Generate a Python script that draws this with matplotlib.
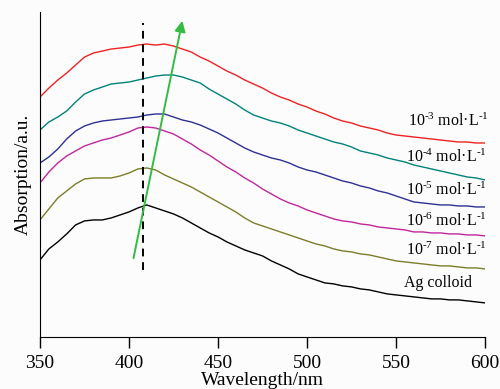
# UV-vis absorption spectra of Ag colloid at different concentrations
import matplotlib
matplotlib.use('Agg')
import matplotlib.pyplot as plt
import numpy as np

plt.rcParams['font.family'] = ['Liberation Serif', 'DejaVu Serif']
plt.rcParams['mathtext.fontset'] = 'custom'
plt.rcParams['mathtext.rm'] = 'Liberation Serif'
plt.rcParams['mathtext.default'] = 'regular'

wavelength = np.arange(350, 601, 5)

# absorption in arbitrary units
red = [240, 249, 257, 264, 272, 280, 284, 286, 288, 289, 290, 292, 293, 292, 293, 291, 288,
       285, 280, 276, 271, 266, 262, 257, 253, 249, 244, 240, 237, 233, 230, 226, 223, 219,
       216, 214, 211, 209, 207, 204, 202, 201, 200, 199, 198, 197, 196, 195, 195, 194, 194]
teal = [207, 215, 220, 226, 235, 243, 247, 250, 253, 254, 255, 257, 259, 261, 262, 262, 260,
        257, 254, 248, 243, 238, 233, 227, 222, 219, 216, 214, 211, 207, 204, 201, 198, 195,
        193, 190, 186, 184, 182, 179, 177, 175, 172, 170, 168, 166, 164, 162, 160, 159, 157]
blue = [174, 180, 188, 198, 206, 211, 214, 216, 217, 218, 219, 220, 222, 223, 223, 220, 217,
        215, 212, 208, 204, 199, 194, 189, 185, 182, 179, 177, 174, 170, 167, 165, 162, 159,
        156, 154, 151, 149, 146, 144, 141, 138, 135, 134, 133, 132, 132, 131, 131, 130, 130]
magenta = [154, 165, 174, 181, 186, 191, 194, 197, 199, 202, 205, 209, 210, 209, 206, 203, 198,
           193, 187, 182, 176, 170, 165, 159, 154, 148, 143, 138, 134, 131, 127, 124, 121, 118,
           116, 115, 113, 112, 110, 109, 108, 107, 105, 105, 104, 104, 103, 103, 102, 102, 101]
olive = [117, 128, 139, 146, 153, 158, 159, 159, 159, 161, 164, 168, 169, 167, 162, 158, 154,
         150, 145, 140, 135, 130, 125, 119, 114, 111, 108, 105, 102, 99, 96, 93, 91, 88,
         86, 85, 83, 82, 80, 78, 76, 75, 74, 73, 72, 71, 71, 70, 69, 69, 68]
black = [77, 88, 95, 103, 112, 116, 117, 117, 119, 122, 125, 129, 132, 129, 126, 123, 119,
         114, 109, 104, 100, 95, 91, 87, 84, 81, 76, 72, 68, 63, 60, 57, 54, 53,
         51, 50, 48, 47, 45, 43, 42, 41, 40, 39, 38, 38, 37, 37, 36, 35, 34]

series = [red, teal, blue, magenta, olive, black]
colors = ['#ee2222', '#00827a', '#2e3192', '#c2269b', '#7b7d2a', '#000000']
labels = ['10$^{\u20103}$ mol·L$^{\u20101}$', '10$^{\u20104}$ mol·L$^{\u20101}$',
          '10$^{\u20105}$ mol·L$^{\u20101}$', '10$^{\u20106}$ mol·L$^{\u20101}$',
          '10$^{\u20107}$ mol·L$^{\u20101}$', 'Ag colloid']
label_x = [557, 555.5, 555.5, 555.5, 555.5, 554.5]
label_y = [216, 180, 147, 116, 87, 54]

fig = plt.figure(figsize=(5, 3.89), dpi=100, facecolor='#fcfcfc')
ax = fig.add_axes([0.08, 0.134, 0.89, 0.835])
ax.set_facecolor('#fcfcfc')

for s, c in zip(series, colors):
    ax.plot(wavelength, s, color=c, lw=1.0)

for t, lx, ly in zip(labels, label_x, label_y):
    ax.text(lx, ly, t, fontsize=11.5, ha='left', va='center')

# peak position marker and red-shift arrow
ax.plot([408, 408], [67, 314], color='black', lw=1.4, ls=(0, (4, 3)))
ax.annotate('', xy=(430.3, 319), xytext=(402.2, 76),
            arrowprops=dict(arrowstyle='-|>', color='#33bb44', lw=1.4, mutation_scale=16))

ax.set_xlim(350, 600)
ax.set_ylim(0, 325)
ax.set_xticks([350, 400, 450, 500, 550, 600])
ax.set_yticks([])
ax.spines['top'].set_visible(False)
ax.spines['right'].set_visible(False)
ax.tick_params(axis='x', direction='out', length=8, width=1, labelsize=14, pad=5)
ax.set_xlabel('Wavelength/nm', fontsize=14, labelpad=0)
ax.set_ylabel('Absorption/a.u.', fontsize=14, labelpad=6)

fig.savefig('out.png', dpi=100, facecolor=fig.get_facecolor())
